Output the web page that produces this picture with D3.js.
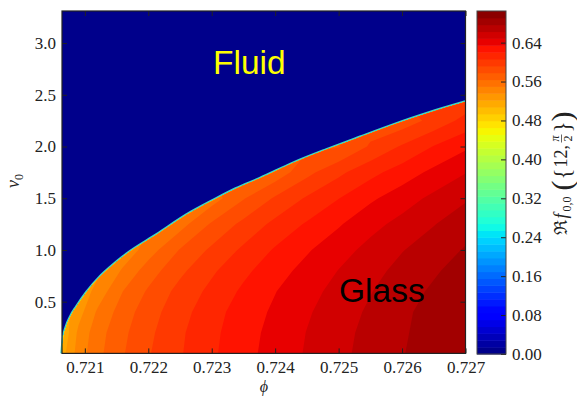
<!DOCTYPE html>
<html>
<head>
<meta charset="utf-8">
<script src="https://cdn.jsdelivr.net/npm/d3@7"></script>
<style>
  body { margin: 0; background: #fff; }
  svg { display: block; }
</style>
</head>
<body>
<svg id="chart" width="577" height="398"></svg>
<script>
// grid of the glass order parameter (rows = v0, cols = phi)
const phiGrid = [0.7205, 0.7207, 0.7209, 0.7212, 0.7216, 0.7220, 0.7225, 0.7230,
                 0.7235, 0.7240, 0.7245, 0.7250, 0.7255, 0.7260, 0.7265, 0.7270];
const v0Grid = [0, 0.2, 0.4, 0.6, 0.8, 1.0, 1.25, 1.5, 1.75, 2.0, 2.25, 2.5];
const fRows = [
  [0.504, 0.522, 0.542, 0.560, 0.577, 0.591, 0.605, 0.618, 0.630, 0.640, 0.650, 0.659, 0.668, 0.676, 0.684, 0.691],
  [0.511, 0.516, 0.539, 0.558, 0.575, 0.589, 0.604, 0.617, 0.629, 0.639, 0.649, 0.658, 0.667, 0.675, 0.683, 0.691],
  [0.518, 0.518, 0.530, 0.552, 0.571, 0.586, 0.601, 0.615, 0.627, 0.637, 0.647, 0.656, 0.665, 0.674, 0.682, 0.689],
  [0.525, 0.525, 0.525, 0.541, 0.564, 0.580, 0.597, 0.610, 0.623, 0.634, 0.644, 0.653, 0.662, 0.671, 0.679, 0.687],
  [0.532, 0.532, 0.532, 0.532, 0.552, 0.571, 0.589, 0.604, 0.617, 0.629, 0.639, 0.649, 0.658, 0.667, 0.675, 0.683],
  [0.539, 0.539, 0.539, 0.539, 0.539, 0.557, 0.579, 0.595, 0.609, 0.622, 0.633, 0.643, 0.653, 0.662, 0.670, 0.678],
  [0.548, 0.548, 0.548, 0.548, 0.548, 0.548, 0.558, 0.580, 0.596, 0.610, 0.622, 0.633, 0.644, 0.653, 0.662, 0.671],
  [0.557, 0.557, 0.557, 0.557, 0.557, 0.557, 0.557, 0.557, 0.577, 0.594, 0.608, 0.620, 0.632, 0.642, 0.652, 0.661],
  [0.566, 0.566, 0.566, 0.566, 0.566, 0.566, 0.566, 0.566, 0.566, 0.569, 0.588, 0.603, 0.616, 0.627, 0.638, 0.648],
  [0.575, 0.575, 0.575, 0.575, 0.575, 0.575, 0.575, 0.575, 0.575, 0.575, 0.575, 0.577, 0.594, 0.608, 0.621, 0.632],
  [0.584, 0.584, 0.584, 0.584, 0.584, 0.584, 0.584, 0.584, 0.584, 0.584, 0.584, 0.584, 0.584, 0.584, 0.597, 0.611],
  [0.593, 0.593, 0.593, 0.593, 0.593, 0.593, 0.593, 0.593, 0.593, 0.593, 0.593, 0.593, 0.593, 0.593, 0.593, 0.593]
];

// fluid / glass transition line [phi, v0]
const boundary = [
  [0.72064, 0.0], [0.72066, 0.13], [0.72071, 0.26], [0.72078, 0.36], [0.72087, 0.45],
  [0.72103, 0.59], [0.72124, 0.74], [0.7214, 0.83], [0.72166, 0.96], [0.72214, 1.15],
  [0.72261, 1.34], [0.72303, 1.48], [0.72338, 1.59], [0.72376, 1.69], [0.72429, 1.84],
  [0.72482, 1.97], [0.72534, 2.09], [0.72587, 2.21], [0.7264, 2.32], [0.727, 2.43]
];

const xTicks = [0.721, 0.722, 0.723, 0.724, 0.725, 0.726, 0.727];
const yTicks = [0.5, 1.0, 1.5, 2.0, 2.5, 3.0];
const cbTicks = [0, 0.08, 0.16, 0.24, 0.32, 0.40, 0.48, 0.56, 0.64];
const phiDomain = [0.72064, 0.727];
const v0Domain = [0, 3.31];
const fMax = 0.705;
const levelCount = 50;

const box = { left: 62, right: 465.5, top: 11, bottom: 353.4 };
const cb = { left: 477, width: 29, top: 11, bottom: 354 };
const serif = "'Liberation Serif', 'Times New Roman', serif";

const svg = d3.select("#chart");

// matplotlib jet
const jetR = d3.scaleLinear().domain([0, 0.35, 0.66, 0.89, 1]).range([0, 0, 1, 1, 0.5]).clamp(true);
const jetG = d3.scaleLinear().domain([0, 0.125, 0.375, 0.64, 0.91, 1]).range([0, 0, 1, 1, 0, 0]).clamp(true);
const jetB = d3.scaleLinear().domain([0, 0.11, 0.34, 0.65, 1]).range([0.5, 1, 1, 0, 0]).clamp(true);
const jet = (t) => d3.rgb(255 * jetR(t), 255 * jetG(t), 255 * jetB(t)).formatHex();

const levels = d3.range(levelCount + 1).map((i) => (fMax * i) / levelCount);
const bandColor = (i) => jet((i + 0.5) / levelCount);

const x = d3.scaleLinear().domain(phiDomain).range([box.left, box.right]);
const y = d3.scaleLinear().domain(v0Domain).range([box.bottom, box.top]);

// fluid background (lowest band)
svg.append("rect")
  .attr("x", box.left).attr("y", box.top)
  .attr("width", box.right - box.left).attr("height", box.bottom - box.top)
  .attr("fill", bandColor(0));

// glass region clip
const glassArea = d3.area()
  .x((d) => x(d[0]))
  .y0(y(0))
  .y1((d) => y(d[1]))
  .curve(d3.curveMonotoneX);

svg.append("clipPath").attr("id", "glass")
  .append("path").attr("d", glassArea(boundary));

const edgeLine = d3.line().x((d) => x(d[0])).y((d) => y(d[1])).curve(d3.curveMonotoneX);

// thin fringe on the transition line
svg.append("path")
  .attr("d", edgeLine(boundary))
  .attr("fill", "none")
  .attr("stroke", "#45d3c0")
  .attr("stroke-width", 3.5);

// filled contours
const colToPhi = d3.scaleLinear().domain(d3.range(phiGrid.length)).range(phiGrid);
const rowToV0 = d3.scaleLinear().domain(d3.range(v0Grid.length)).range(v0Grid);
const proj = d3.geoTransform({
  point(px, py) { this.stream.point(x(colToPhi(px - 0.5)), y(rowToV0(py - 0.5))); }
});
const path = d3.geoPath(proj);

const contours = d3.contours()
  .size([phiGrid.length, v0Grid.length])
  .thresholds(levels.slice(0, -1))(fRows.flat());

svg.append("g")
  .attr("clip-path", "url(#glass)")
  .selectAll("path")
  .data(contours.filter((c) => c.coordinates.length))
  .join("path")
  .attr("d", path)
  .attr("fill", (c) => bandColor(Math.round(c.value / (fMax / levelCount))));

// region labels
svg.append("text")
  .attr("x", 213).attr("y", 73.5)
  .attr("font-family", "'Liberation Sans', Arial, sans-serif")
  .attr("font-size", 33.5)
  .attr("fill", "#ffff00")
  .text("Fluid");

svg.append("text")
  .attr("x", 339).attr("y", 302)
  .attr("font-family", "'Liberation Sans', Arial, sans-serif")
  .attr("font-size", 33.5)
  .attr("fill", "#000")
  .text("Glass");

// axes
const styleAxis = (g) => {
  g.select(".domain").remove();
  g.selectAll(".tick line").attr("stroke", "#222").attr("stroke-width", 1);
  g.selectAll(".tick text").attr("font-family", serif).attr("font-size", 17).attr("fill", "#222");
};

svg.append("g")
  .attr("transform", `translate(0,${box.bottom})`)
  .call(d3.axisBottom(x).tickValues(xTicks).tickFormat(d3.format(".3f")).tickSizeInner(-5).tickSizeOuter(0).tickPadding(8))
  .call(styleAxis);
svg.append("g")
  .attr("transform", `translate(0,${box.top})`)
  .call(d3.axisTop(x).tickValues(xTicks).tickFormat("").tickSizeInner(-5).tickSizeOuter(0))
  .call(styleAxis);
svg.append("g")
  .attr("transform", `translate(${box.left},0)`)
  .call(d3.axisLeft(y).tickValues(yTicks).tickFormat(d3.format(".1f")).tickSizeInner(-5).tickSizeOuter(0).tickPadding(6))
  .call(styleAxis);
svg.append("g")
  .attr("transform", `translate(${box.right},0)`)
  .call(d3.axisRight(y).tickValues(yTicks).tickFormat("").tickSizeInner(-5).tickSizeOuter(0))
  .call(styleAxis);

svg.append("rect")
  .attr("x", box.left).attr("y", box.top)
  .attr("width", box.right - box.left).attr("height", box.bottom - box.top)
  .attr("fill", "none").attr("stroke", "#222").attr("stroke-width", 1.2);

// axis labels
svg.append("text")
  .attr("x", 264).attr("y", 392)
  .attr("text-anchor", "middle")
  .attr("font-family", serif).attr("font-style", "italic").attr("font-size", 16)
  .attr("fill", "#222")
  .text("ϕ");

const yl = svg.append("text")
  .attr("transform", "translate(19,181) rotate(-90)")
  .attr("text-anchor", "middle")
  .attr("font-family", serif).attr("font-size", 18)
  .attr("fill", "#222");
yl.append("tspan").attr("font-style", "italic").text("v");
yl.append("tspan").attr("font-size", 12).attr("dy", 4).text("0");

// colorbar
const yc = d3.scaleLinear().domain([0, fMax]).range([cb.bottom, cb.top]);
svg.append("g")
  .selectAll("rect")
  .data(d3.range(levelCount))
  .join("rect")
  .attr("x", cb.left)
  .attr("width", cb.width)
  .attr("y", (i) => yc(levels[i + 1]))
  .attr("height", (i) => yc(levels[i]) - yc(levels[i + 1]) + 0.5)
  .attr("fill", (i) => bandColor(i));

svg.append("g")
  .attr("transform", `translate(${cb.left + cb.width},0)`)
  .call(d3.axisRight(yc).tickValues(cbTicks).tickFormat(d3.format(".2f")).tickSizeInner(-5).tickSizeOuter(0).tickPadding(6))
  .call(styleAxis);

svg.append("rect")
  .attr("x", cb.left).attr("y", cb.top)
  .attr("width", cb.width).attr("height", cb.bottom - cb.top)
  .attr("fill", "none").attr("stroke", "#444").attr("stroke-width", 1);

// colorbar label: Re f_{0,0}({12, pi/2})
const lab = svg.append("g")
  .attr("transform", "translate(566.5,171.5) rotate(-90)")
  .attr("font-family", serif)
  .attr("fill", "#222");
lab.append("text").attr("x", -63).attr("font-size", 18).text("ℜ");
lab.append("text").attr("x", -47).attr("font-size", 18).attr("font-style", "italic").text("f");
lab.append("text").attr("x", -40).attr("y", 4).attr("font-size", 12).text("0,0");
lab.append("text").attr("x", -19).attr("y", 5).attr("font-size", 30).text("(");
lab.append("text").attr("x", -8).attr("y", 3).attr("font-size", 23).text("{");
lab.append("text").attr("x", 4).attr("font-size", 18).text("12,");
lab.append("text").attr("x", 33).attr("y", -8).attr("text-anchor", "middle").attr("font-size", 12).attr("font-style", "italic").text("π");
lab.append("line").attr("x1", 29).attr("x2", 37).attr("y1", -5).attr("y2", -5).attr("stroke", "#222").attr("stroke-width", 0.7);
lab.append("text").attr("x", 33).attr("y", 5).attr("text-anchor", "middle").attr("font-size", 12).text("2");
lab.append("text").attr("x", 39).attr("y", 3).attr("font-size", 23).text("}");
lab.append("text").attr("x", 50).attr("y", 5).attr("font-size", 30).text(")");
</script>
</body>
</html>
